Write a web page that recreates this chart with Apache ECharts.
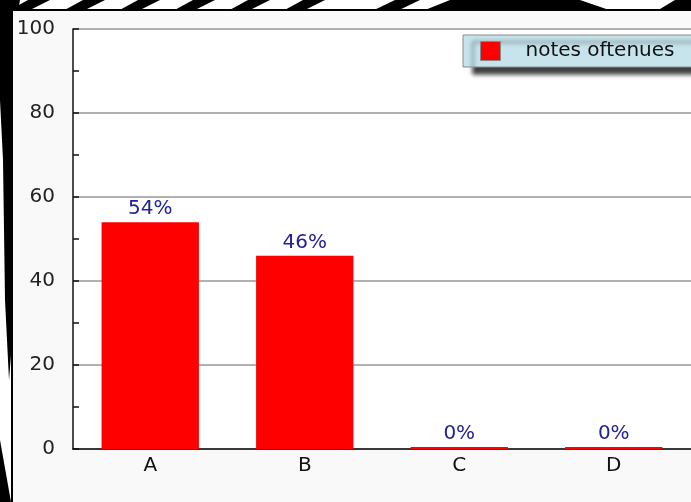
<!DOCTYPE html>
<html>
<head>
<meta charset="utf-8">
<script src="https://cdn.jsdelivr.net/npm/echarts@6/dist/echarts.min.js"></script>
<style>html,body{margin:0;padding:0;background:#fff;}#c{width:691px;height:502px;}</style>
</head>
<body>
<div id="c"></div>
<script>
var categories = ['A', 'B', 'C', 'D'];
var seriesName = 'notes oftenues';
var values = [54, 46, 0, 0];
var yTicks = [0, 20, 40, 60, 80, 100];

var chart = echarts.init(document.getElementById('c'));

// decorative background stripes (outside the chart panel)
var bg = [];
var stripeXs = [20, 75, 130, 185, 240, 295];
stripeXs.forEach(function (x) {
  bg.push({ type: 'polygon', shape: { points: [[x - 14, 12], [x + 6, 12], [x + 30, 0], [x + 8, 0]] }, style: { fill: '#000' } });
});
bg.push({ type: 'polygon', shape: { points: [[370, 12], [395, 0], [420, 0], [395, 12]] }, style: { fill: '#000' } });
bg.push({ type: 'polygon', shape: { points: [[420, 12], [450, 0], [580, 0], [615, 12]] }, style: { fill: '#000' } });
bg.push({ type: 'polygon', shape: { points: [[655, 12], [675, 0], [691, 0], [691, 12]] }, style: { fill: '#000' } });
bg.push({ type: 'polygon', shape: { points: [[0, 0], [20, 0], [13, 40], [13, 330], [9, 380], [5, 300], [3, 160], [0, 100]] }, style: { fill: '#000' } });
bg.push({ type: 'polygon', shape: { points: [[0, 440], [11, 502], [0, 502]] }, style: { fill: '#000' } });

var option = {
  backgroundColor: '#fff',
  animation: false,
  textStyle: { fontFamily: 'DejaVu Sans' },
  graphic: bg.concat([
    { type: 'rect', z: -1, shape: { x: 12, y: 10, width: 700, height: 500 }, style: { fill: '#f9f9f9', stroke: '#000', lineWidth: 2 } }
  ]).map(function (g) { g.z = g.z === undefined ? -2 : g.z; g.silent = true; return g; }),
  legend: {
    left: 463, top: 35,
    padding: [6, 40, 6, 17],
    backgroundColor: '#c7e4ec',
    borderColor: '#8a8a8a', borderWidth: 1,
    shadowColor: 'rgba(0,0,0,0.75)', shadowBlur: 4, shadowOffsetX: 10, shadowOffsetY: 7,
    itemWidth: 20, itemHeight: 19,
    icon: 'rect',
    itemStyle: { borderColor: '#888', borderWidth: 1 },
    textStyle: { fontSize: 20, color: '#111', padding: [0, 0, 0, 20], fontFamily: 'DejaVu Sans' },
    data: [seriesName]
  },
  grid: { left: 73, top: 29, right: -6, bottom: 53, show: true, backgroundColor: '#fff', borderWidth: 0 },
  xAxis: {
    type: 'category',
    data: categories,
    axisLine: { lineStyle: { color: '#111', width: 1.5 } },
    axisTick: { inside: true, length: 8, lineStyle: { color: '#111', width: 1.5 } },
    axisLabel: { fontSize: 20, color: '#111', margin: 7, fontFamily: 'DejaVu Sans' }
  },
  yAxis: {
    type: 'value',
    min: yTicks[0], max: yTicks[yTicks.length - 1], interval: 20,
    axisLine: { show: true, lineStyle: { color: '#111', width: 1.5 } },
    axisTick: { show: true, inside: true, length: 6, lineStyle: { color: '#111', width: 1.5 } },
    minorTick: { show: true, splitNumber: 2, length: 6, lineStyle: { color: '#111', width: 1.5 } },
    splitLine: { show: true, lineStyle: { color: '#999', width: 1.5 } },
    axisLabel: { fontSize: 20, color: '#222', margin: 18, fontFamily: 'DejaVu Sans' }
  },
  series: [{
    name: seriesName,
    type: 'bar',
    data: values,
    barWidth: '63%',
    barMinHeight: 2,
    itemStyle: { color: '#ff0000' },
    label: { show: true, position: 'top', distance: 3, formatter: '{c}%', color: '#22229a', fontSize: 20, fontFamily: 'DejaVu Sans' }
  }]
};
chart.setOption(option);
</script>
</body>
</html>
